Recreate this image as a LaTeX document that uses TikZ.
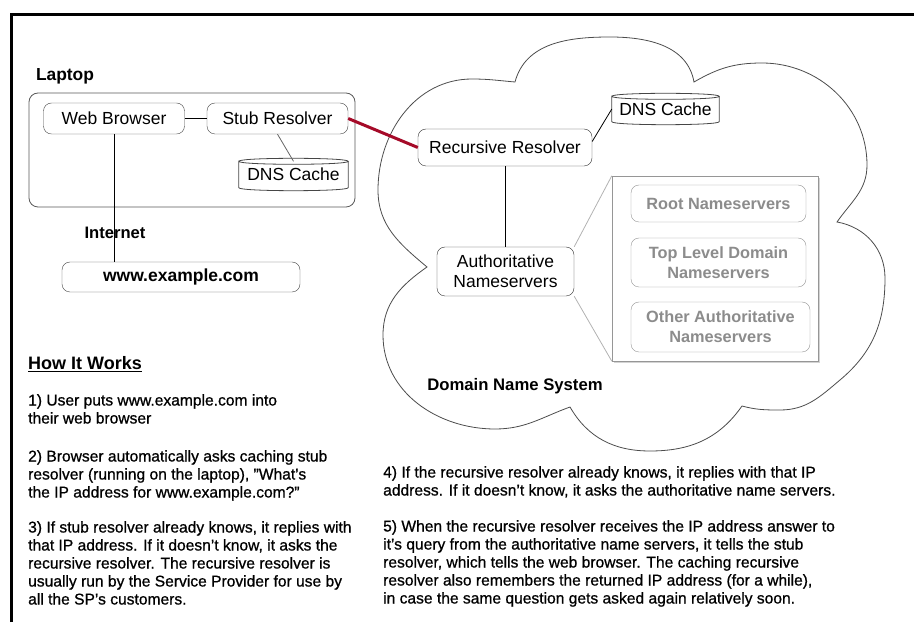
\documentclass[tikz,border=0pt]{standalone}
\usepackage{fontspec}
\setmainfont{Liberation Sans}
\newfontfamily\bodyfont[FakeBold=0.8]{Liberation Sans}
\usetikzlibrary{shadows,calc}
\definecolor{dnsred}{RGB}{165,10,40}
\definecolor{boxline}{RGB}{70,70,70}
\definecolor{greytxt}{RGB}{140,140,140}
\definecolor{greyline}{RGB}{150,150,150}
\begin{document}
\begin{tikzpicture}[x=1pt,y=1pt,
  box/.style={draw=boxline, rounded corners=8pt, inner sep=0pt, align=center,
    font=\fontsize{17.5}{20}\selectfont},
  gbox/.style={draw=greyline, rounded corners=8pt, inner sep=0pt, align=center,
    text=greytxt, font=\bfseries\fontsize{16.3}{20}\selectfont},
  drum/.style={inner sep=0pt, font=\fontsize{17.5}{20}\selectfont},
  blbl/.style={inner sep=0pt, font=\bfseries\fontsize{17.4}{20}\selectfont},
  body/.style={inner sep=0pt, anchor=north west, align=left,
    font=\bodyfont\fontsize{15.6}{18}\selectfont},
  cloudline/.style={draw=black!70, line width=0.8pt},
  conn/.style={draw=black, line width=0.8pt}]
\useasboundingbox (0,0) rectangle (914,622);
% frame
\draw[line width=3pt] (11.5,0) -- (11.5,607.5) -- (914,607.5);
% cloud
\draw[cloudline] (427,355) to[out=140,in=270] (378,432) to[out=90,in=180] (472,543)
  to[out=0,in=175] (515,540)
  to[out=75,in=180] (610,585) to[out=0,in=100] (694,540)
  to[out=30,in=180] (762,559) to[out=0,in=90] (867,457) to[out=270,in=55] (837,400)
  to[out=-10,in=90] (885,344) to[out=-90,in=40] (840,242) to[out=220,in=0] (780,212)
  to[out=180,in=-15] (742,216)
  to[out=235,in=0] (650,171) to[out=180,in=-60] (570,215)
  to[out=200,in=0] (495,193) to[out=180,in=-90] (383,287) to[out=90,in=215] (427,355) -- cycle;
% laptop
\node[draw=black!65, line width=0.8pt, rounded corners=9pt, minimum width=326pt, minimum height=114pt] (laptop) at (192,472) {};
\node[blbl] (laptoplbl) at (65,546) {Laptop};
\node[box, minimum width=141pt, minimum height=31pt] (wb) at (114,503.5) {Web Browser};
\node[box, minimum width=141pt, minimum height=31pt] (sr) at (277.5,503.5) {Stub Resolver};
\node[drum, minimum width=109pt, minimum height=26pt] (lc) at (293.5,447.5) {DNS Cache};
\node[blbl, font=\bfseries\fontsize{16.6}{20}\selectfont] (inet) at (115,389) {Internet};
\node[box, font=\bfseries\fontsize{17.5}{20}\selectfont, minimum width=238pt, minimum height=30pt] (www) at (181,345) {www.example.com};
% DNS side
\node[box, draw=black!80, minimum width=174pt, minimum height=37pt] (rr) at (505,474.5) {Recursive Resolver};
\node[drum, minimum width=107pt, minimum height=25pt] (cc) at (665.5,513) {DNS Cache};
\node[box, draw=black!80, minimum width=137pt, minimum height=49pt, font=\fontsize{17.5}{20}\selectfont] (auth) at (505.5,350.5) {Authoritative\\Nameservers};
\node[draw=greyline, fill=white, minimum width=206pt, minimum height=185pt,
  drop shadow={shadow xshift=1.5pt, shadow yshift=-2pt, opacity=0.35}] (panel) at (715,353.5) {};
\node[gbox, minimum width=175pt, minimum height=37pt] (root) at (718.5,418.5) {Root Nameservers};
\node[gbox, minimum width=175pt, minimum height=49pt] (tld) at (718.5,359.5) {Top Level Domain\\Nameservers};
\node[gbox, minimum width=179pt, minimum height=50pt] (other) at (720.5,295) {Other Authoritative\\Nameservers};
\node[blbl, font=\bfseries\fontsize{16.7}{20}\selectfont] (dnslbl) at (515,236) {Domain Name System};
% drums
\foreach \n in {lc,cc}{
  \draw[draw=boxline, line width=0.8pt] (\n.north west) .. controls +(0,4) and +(0,4) .. (\n.north east)
    .. controls +(0,-4) and +(0,-4) .. (\n.north west) -- (\n.south west)
    .. controls +(0,-4) and +(0,-4) .. (\n.south east) -- (\n.north east);
}
% connectors
\draw[conn] (wb.east) -- (sr.west);
\draw[conn, draw=black!60] (sr.south) -- (lc.north);
\draw[conn] (wb.south) -- (wb.south |- www.north);
\draw[dnsred, line width=3pt] (sr.east) -- (rr.west);
\draw[conn] ([yshift=6pt]rr.east) -- (cc.west);
\draw[conn] (rr.south) -- (rr.south |- auth.north);
\draw[draw=black!30, line width=0.8pt] (auth.north east) -- (panel.north west);
\draw[draw=black!30, line width=0.8pt] (auth.south east) -- (panel.south west);
% how it works
\node[inner sep=0pt, anchor=west, font=\bfseries\fontsize{18}{20}\selectfont] (how) at (28,258) {\underline{How It Works}};
\node[body] (p1) at (28,228) {1) User puts www.example.com into\\their web browser};
\node[body] (p2) at (28,172) {2) Browser automatically asks caching stub\\resolver (running on the laptop), ”What’s\\the IP address for www.example.com?”};
\node[body] (p3) at (28,101) {3) If stub resolver already knows, it replies with\\that IP address. If it doesn’t know, it asks the\\recursive resolver. The recursive resolver is\\usually run by the Service Provider for use by\\all the SP’s customers.};
\node[body] (p4) at (383,156) {4) If the recursive resolver already knows, it replies with that IP\\address. If it doesn’t know, it asks the authoritative name servers.};
\node[body] (p5) at (383,102) {5) When the recursive resolver receives the IP address answer to\\it’s query from the authoritative name servers, it tells the stub\\resolver, which tells the web browser. The caching recursive\\resolver also remembers the returned IP address (for a while),\\in case the same question gets asked again relatively soon.};
\end{tikzpicture}
\end{document}
